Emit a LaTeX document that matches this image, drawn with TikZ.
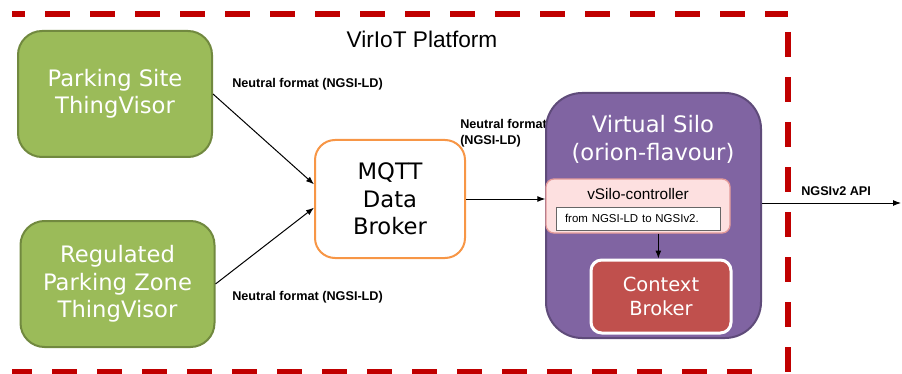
\documentclass[tikz,border=0pt]{standalone}
\usepackage{fontspec}
\setmainfont{DejaVu Sans}
\newfontfamily\labelfont{Liberation Sans}
\usetikzlibrary{arrows.meta}
\definecolor{tvgreen}{HTML}{9BBB59}
\definecolor{tvgreendark}{HTML}{71893F}
\definecolor{brokerorange}{HTML}{F79646}
\definecolor{silopurple}{HTML}{8064A2}
\definecolor{silopurpledark}{HTML}{5F4B7A}
\definecolor{ctrlpink}{HTML}{FDE0E0}
\definecolor{ctrlborder}{HTML}{E49A99}
\definecolor{cbred}{HTML}{C0504D}
\definecolor{platformred}{HTML}{C00000}

\begin{document}
\begin{tikzpicture}[x=0.75pt,y=-0.75pt,>={Latex[length=6pt,width=4.5pt]}]
  \tikzstyle{thingvisor}=[rectangle, rounded corners=18pt, fill=tvgreen, draw=tvgreendark,
line width=1.5pt, text=white, align=center, font=\fontsize{17pt}{20.5pt}\selectfont,
minimum width=145.5pt, minimum height=94.5pt, inner sep=0pt]
  \tikzstyle{flowlabel}=[anchor=west, inner sep=0pt, align=left,
font=\labelfont\bfseries\fontsize{9.5pt}{12pt}\selectfont]
  \tikzstyle{platformline}=[draw=platformred, line width=4.5pt]
  \useasboundingbox (0,0) rectangle (902,374);

  % platform border (open on the left)
  \draw[platformline, dash pattern=on 18.75pt off 15pt, dash phase=9pt] (12,14) -- (788,14);
  \draw[platformline, dash pattern=on 18.75pt off 15pt] (788,32) -- (788,374);
  \draw[platformline, dash pattern=on 18.75pt off 15pt, dash phase=3.75pt] (12,372) -- (770,372);
  \node[inner sep=0pt, font=\labelfont\fontsize{17pt}{20pt}\selectfont] (title) at (422,39) {VirIoT Platform};

  \node[thingvisor] (PS) at (115,94) {Parking Site\\ThingVisor};
  \node[thingvisor] (RPZ) at (117.5,284) {Regulated\\Parking Zone\\ThingVisor};
  \node[rectangle, rounded corners=15pt, fill=white, draw=brokerorange, line width=1.5pt,
align=center, font=\fontsize{17pt}{20.5pt}\selectfont, minimum width=112.5pt,
minimum height=88.5pt, inner sep=0pt] (MQTT) at (390,199) {MQTT\\Data\\Broker};

  \node[flowlabel] (L_1) at (232,84) {Neutral format (NGSI-LD)};
  \node[flowlabel] (L_2) at (232,297) {Neutral format (NGSI-LD)};
  \node[flowlabel] (L_3) at (460,133) {Neutral format\\(NGSI-LD)};
  \node[flowlabel] (L_4) at (801,191) {NGSIv2 API};

  % virtual silo
  \node[rectangle, rounded corners=27pt, fill=silopurple, draw=silopurpledark, line width=1.5pt,
minimum width=161.25pt, minimum height=183.75pt] (silo) at (653.5,215.5) {};
  \node[inner sep=0pt, text=white, align=center, font=\fontsize{17pt}{21pt}\selectfont]
(silotitle) at (653,139) {Virtual Silo\\(orion-flavour)};
  \node[rectangle, rounded corners=6pt, fill=ctrlpink, draw=ctrlborder, line width=1pt,
minimum width=138pt, minimum height=40.5pt] (ctrl) at (638,206) {};
  \node[inner sep=0pt, font=\labelfont\fontsize{11.5pt}{14pt}\selectfont] (ctrltitle) at (638,194) {vSilo-controller};
  \node[rectangle, fill=white, draw=gray!80!black, line width=0.75pt, minimum width=123pt,
minimum height=17.25pt, text width=109.5pt, inner xsep=6.75pt, inner ysep=0pt, align=left,
font=\labelfont\fontsize{8.6pt}{10pt}\selectfont] (conv) at (638,218.5) {from NGSI-LD to NGSIv2.};
  \node[rectangle, rounded corners=8pt, fill=cbred, draw=white, line width=2.25pt, text=white,
align=center, font=\fontsize{14.6pt}{18pt}\selectfont, minimum width=105pt,
minimum height=54.75pt, inner sep=0pt] (CB) at (661,296.5) {Context\\Broker};
  \coordinate (api) at (901,203);

  \draw[->, line width=0.75pt] (PS.east) -- ([yshift=11pt]MQTT.west);
  \draw[->, line width=0.75pt] (RPZ.east) -- ([yshift=-6.5pt]MQTT.west);
  \draw[->, line width=0.75pt] (MQTT.east) -- (MQTT.east -| ctrl.west);
  \draw[->, line width=0.75pt] ([xshift=-2pt]CB.north |- ctrl.south) -- ([xshift=-2pt]CB.north);
  \draw[->, line width=0.75pt] (api -| silo.east) -- (api);
\end{tikzpicture}
\end{document}
